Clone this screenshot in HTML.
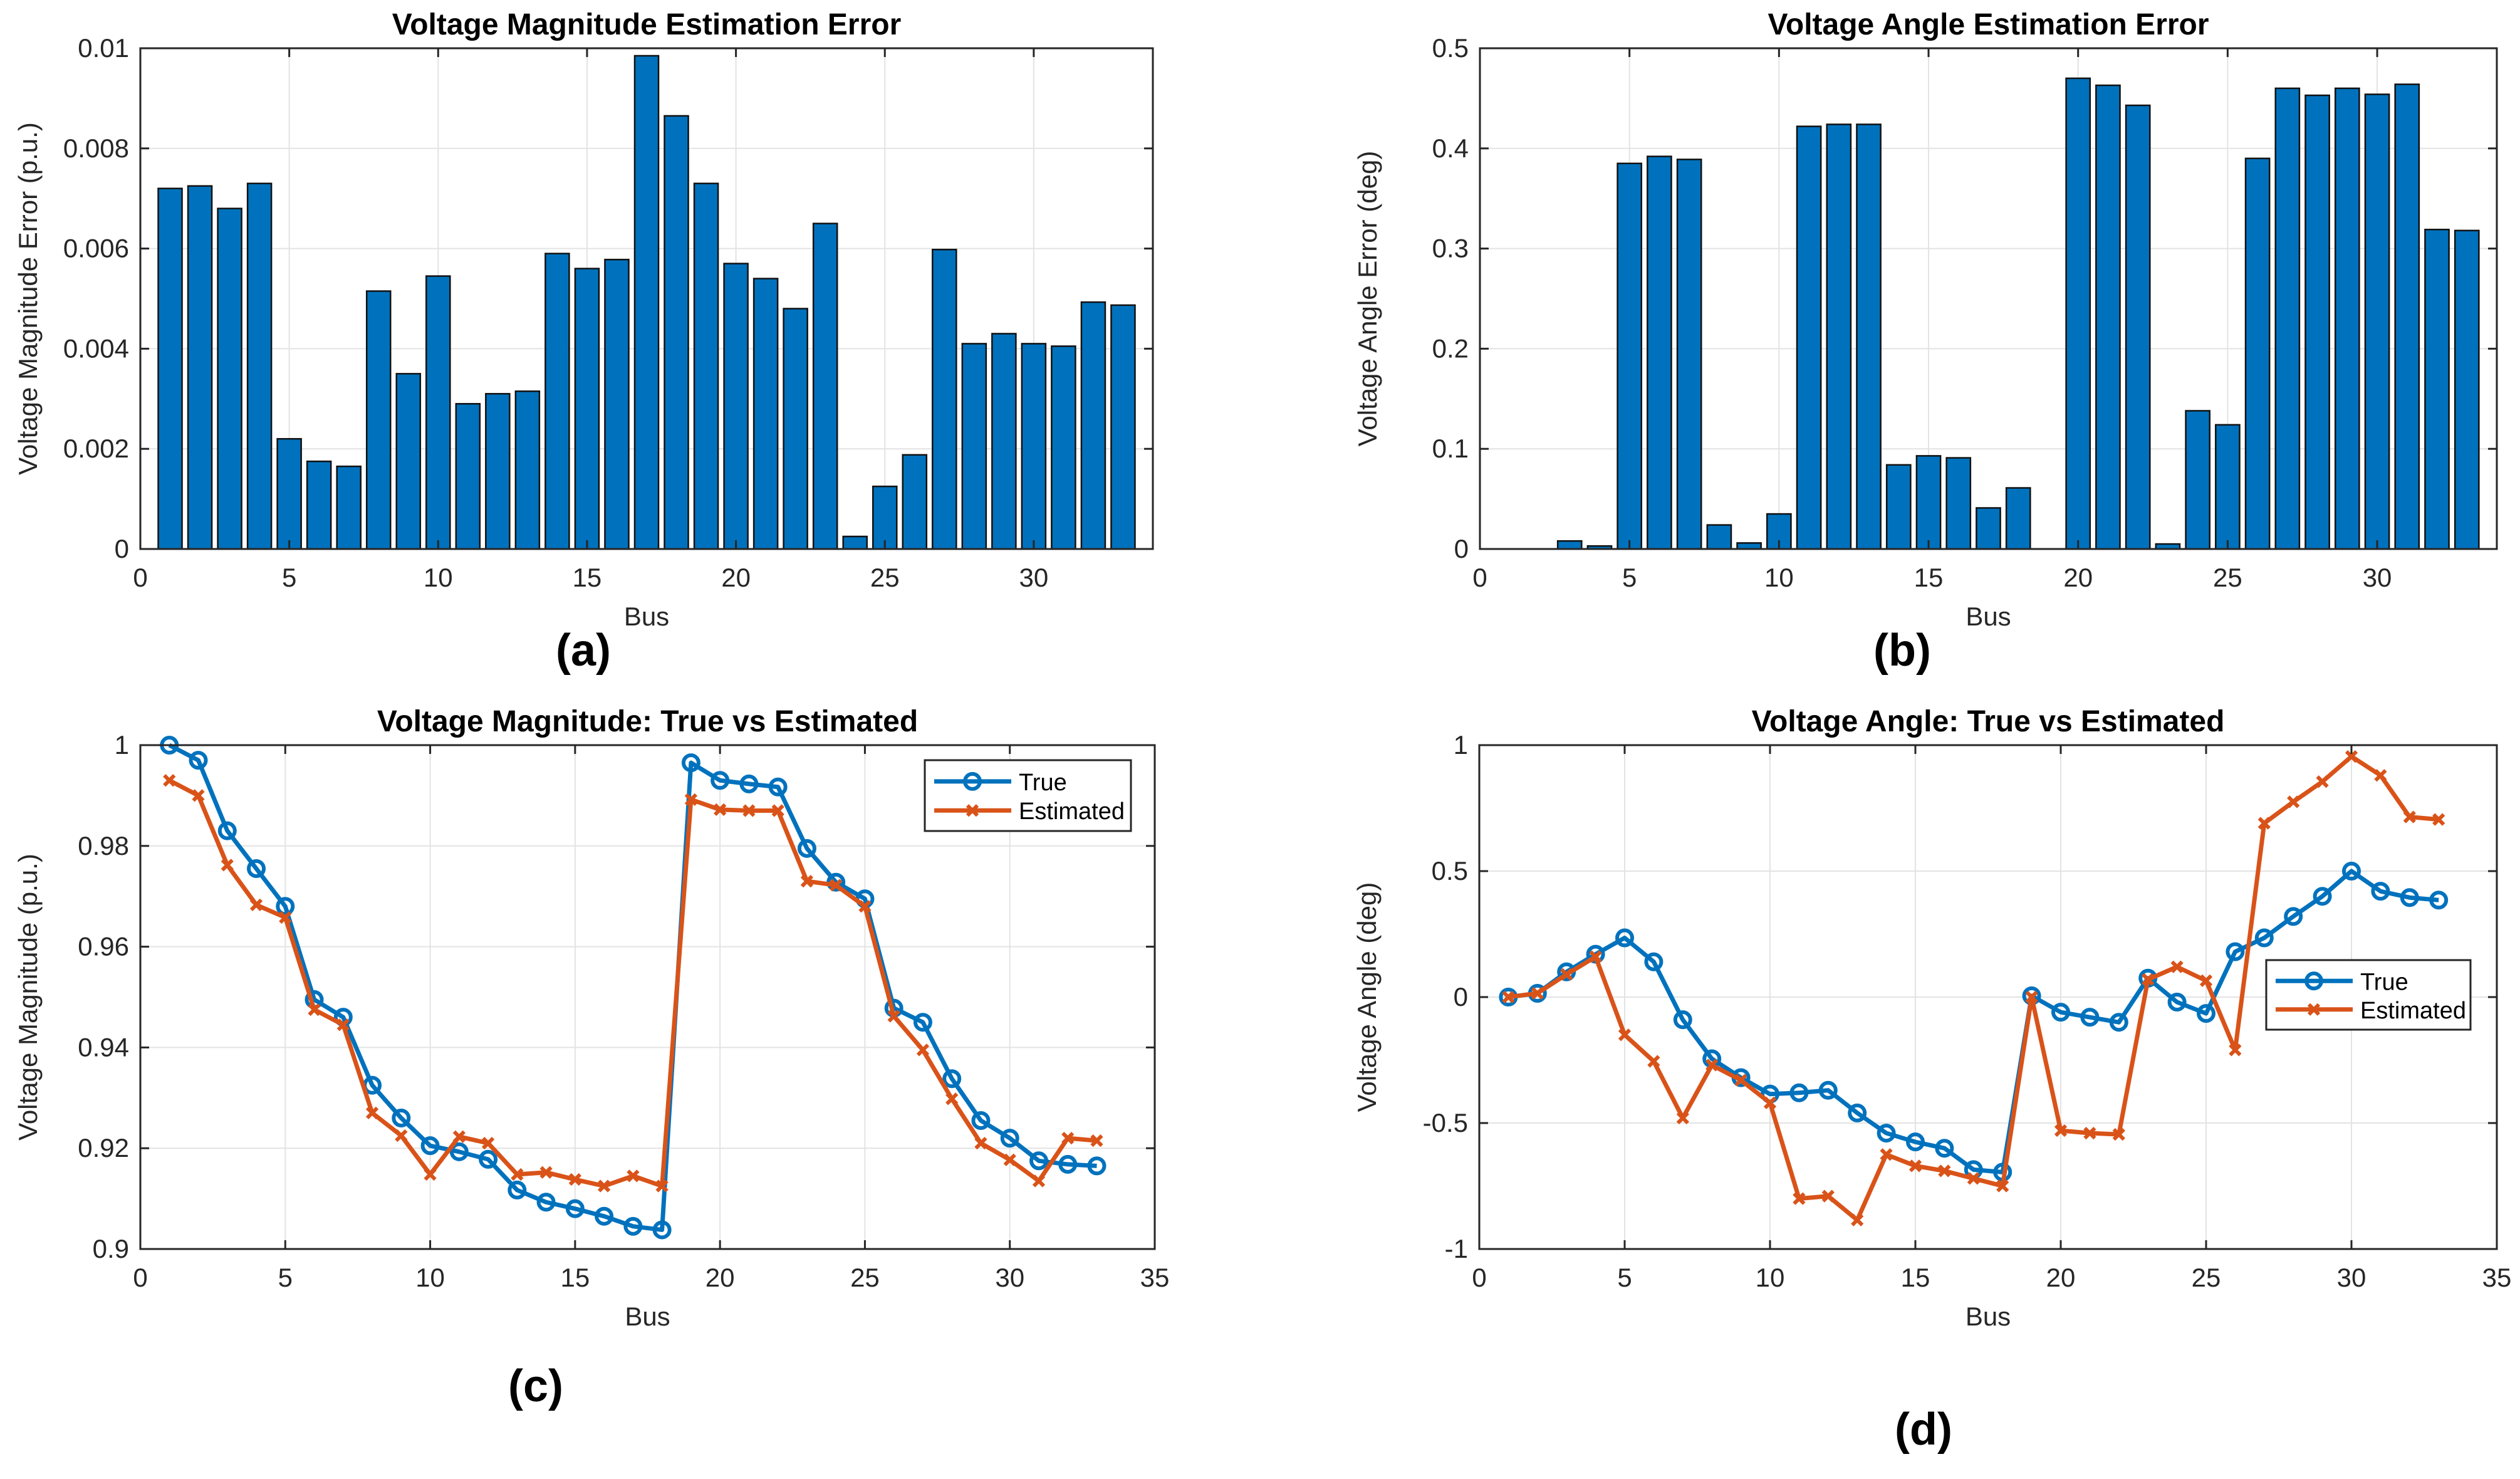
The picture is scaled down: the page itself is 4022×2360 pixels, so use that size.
<!DOCTYPE html>
<html><head><meta charset="utf-8"><style>
html,body{margin:0;padding:0;background:#fff;}
svg{display:block;font-family:"Liberation Sans",sans-serif;}
</style></head><body>
<svg id="fig" width="4022" height="2360" viewBox="0 0 4022 2360" xmlns="http://www.w3.org/2000/svg"></svg>
<script>
const buses = [1,2,3,4,5,6,7,8,9,10,11,12,13,14,15,16,17,18,19,20,21,22,23,24,25,26,27,28,29,30,31,32,33];
const magErr = [0.0072,0.00725,0.0068,0.0073,0.0022,0.00175,0.00165,0.00515,0.0035,0.00545,0.0029,0.0031,0.00315,0.0059,0.0056,0.00578,0.00985,0.00865,0.0073,0.0057,0.0054,0.0048,0.0065,0.00025,0.00125,0.00188,0.00598,0.0041,0.0043,0.0041,0.00405,0.00493,0.00487];
const angErr = [0,0,0.008,0.003,0.385,0.392,0.389,0.024,0.006,0.035,0.422,0.424,0.424,0.084,0.093,0.091,0.041,0.061,0,0.47,0.463,0.443,0.005,0.138,0.124,0.39,0.46,0.453,0.46,0.454,0.464,0.319,0.318];
const magTrue = [1,0.997,0.983,0.9755,0.968,0.9495,0.946,0.9325,0.926,0.9205,0.9193,0.9178,0.9117,0.9093,0.908,0.9065,0.9045,0.9038,0.9965,0.993,0.9923,0.9917,0.9795,0.9728,0.9695,0.9478,0.945,0.9338,0.9255,0.922,0.9175,0.9168,0.9165];
const magEst = [0.993,0.99,0.9762,0.9683,0.9658,0.9475,0.9445,0.927,0.9225,0.9148,0.9223,0.921,0.9148,0.9152,0.9138,0.9125,0.9145,0.9125,0.9892,0.9872,0.987,0.987,0.973,0.9722,0.968,0.9462,0.9395,0.9298,0.921,0.9177,0.9135,0.922,0.9215];
const angTrue = [0,0.015,0.1,0.17,0.235,0.14,-0.09,-0.245,-0.32,-0.385,-0.38,-0.37,-0.46,-0.54,-0.575,-0.6,-0.685,-0.695,0.005,-0.06,-0.08,-0.1,0.075,-0.02,-0.065,0.18,0.235,0.32,0.4,0.5,0.42,0.395,0.385];
const angEst = [0,0.015,0.09,0.16,-0.15,-0.255,-0.48,-0.27,-0.33,-0.42,-0.8,-0.79,-0.885,-0.625,-0.67,-0.69,-0.72,-0.75,0,-0.53,-0.54,-0.545,0.07,0.12,0.065,-0.21,0.69,0.775,0.855,0.955,0.88,0.715,0.705];
const xTicksBar = [0,5,10,15,20,25,30];
const xTicksLine = [0,5,10,15,20,25,30,35];
const yTicksA = ["0","0.002","0.004","0.006","0.008","0.01"];
const yTicksB = ["0","0.1","0.2","0.3","0.4","0.5"];
const yTicksC = ["0.9","0.92","0.94","0.96","0.98","1"];
const yTicksD = ["-1","-0.5","0","0.5","1"];

const NS="http://www.w3.org/2000/svg";
const svg=document.getElementById('fig');
function mk(tag,attrs,parent,text){const e=document.createElementNS(NS,tag);for(const k in attrs)e.setAttribute(k,attrs[k]);if(text!==undefined)e.textContent=text;(parent||svg).appendChild(e);return e;}
const BLUE="#0072BD", ORANGE="#D95319";

function axes(name,L,R,T,B,xmin,xmax,ymin,ymax,xt,yt,title,ylabel,panel,panelX,panelY){
  const g=mk('g',{});
  
  
  const sx=v=>L+(v-xmin)/(xmax-xmin)*(R-L);
  const sy=v=>B-(v-ymin)/(ymax-ymin)*(B-T);
  mk('rect',{x:L,y:T,width:R-L,height:B-T,fill:'#fff'},g);
  const grid=mk('g',{stroke:'#e3e3e3','stroke-width':2},g);
  
  
  xt.forEach(v=>{mk('line',{x1:sx(v),x2:sx(v),y1:T,y2:B},grid);});
  yt.forEach(s=>{const v=parseFloat(s);mk('line',{x1:L,x2:R,y1:sy(v),y2:sy(v)},grid);});
  const plot=mk('g',{},g);
  mk('rect',{x:L,y:T,width:R-L,height:B-T,fill:'none',stroke:'#262626','stroke-width':3},g);
  const tk=mk('g',{stroke:'#262626','stroke-width':3},g);
  xt.forEach(v=>{mk('line',{x1:sx(v),x2:sx(v),y1:B,y2:B-14},tk);mk('line',{x1:sx(v),x2:sx(v),y1:T,y2:T+14},tk);});
  yt.forEach(s=>{const v=parseFloat(s);mk('line',{x1:L,x2:L+14,y1:sy(v),y2:sy(v)},tk);mk('line',{x1:R,x2:R-14,y1:sy(v),y2:sy(v)},tk);});
  xt.forEach(v=>{const t=mk('text',{x:sx(v),y:B+60,'font-size':42,fill:'#262626','text-anchor':'middle'},g,String(v));});
  yt.forEach(s=>{const v=parseFloat(s);const t=mk('text',{x:L-18,y:sy(v)+14,'font-size':42,fill:'#262626','text-anchor':'end'},g,s);});
  const tt=mk('text',{x:(L+R)/2,y:T-22,'font-size':48,'font-weight':'bold',fill:'#000','text-anchor':'middle'},g,title);
  
  const xl=mk('text',{x:(L+R)/2,y:B+122,'font-size':42,fill:'#262626','text-anchor':'middle'},g,'Bus');
  
  const yl=mk('text',{x:0,y:0,'font-size':42,fill:'#262626','text-anchor':'middle',transform:`translate(${L-165},${(T+B)/2}) rotate(-90)`},g,ylabel);
  
  const pl=mk('text',{x:panelX,y:panelY,'font-size':72,'font-weight':'bold',fill:'#000','text-anchor':'middle'},g,panel);
  
  return {sx,sy,plot};
}

function bars(ax,vals){
  vals.forEach((v,i)=>{
    const x0=ax.sx(buses[i]-0.4),x1=ax.sx(buses[i]+0.4),y0=ax.sy(0),y1=ax.sy(v);
    const r=mk('rect',{x:x0,y:y1,width:x1-x0,height:y0-y1,fill:BLUE,stroke:'#111','stroke-width':2.5},ax.plot);
    
    
  });
}
function series(ax,vals,color,marker,name){
  const g=mk('g',{},ax.plot);
  
  
  const pts=vals.map((v,i)=>ax.sx(buses[i])+','+ax.sy(v)).join(' ');
  mk('polyline',{points:pts,fill:'none',stroke:color,'stroke-width':7,'stroke-linejoin':'round'},g);
  vals.forEach((v,i)=>{
    const x=ax.sx(buses[i]),y=ax.sy(v);
    if(marker==='o'){const c=mk('circle',{cx:x,cy:y,r:12,fill:'none',stroke:color,'stroke-width':6},g);}
    else{const p=mk('path',{d:`M${x-8},${y-8}L${x+8},${y+8}M${x-8},${y+8}L${x+8},${y-8}`,stroke:color,'stroke-width':6},g);}
  });
}
function legend(L,T,W,H){
  const g=mk('g',{});
  
  
  mk('rect',{x:L,y:T,width:W,height:H,fill:'#fff',stroke:'#262626','stroke-width':3},g);
  const rows=[['True',BLUE,'o'],['Estimated',ORANGE,'x']];
  rows.forEach((r,i)=>{
    const y=T+H*(i===0?0.3:0.71);
    const e=mk('g',{},g);
    
    
    mk('line',{x1:L+15,x2:L+138,y1:y,y2:y,stroke:r[1],'stroke-width':7},e);
    const cx=L+76;
    if(r[2]==='o')mk('circle',{cx:cx,cy:y,r:12,fill:'none',stroke:r[1],'stroke-width':6},e);
    else mk('path',{d:`M${cx-8},${y-8}L${cx+8},${y+8}M${cx-8},${y+8}L${cx+8},${y-8}`,stroke:r[1],'stroke-width':6},e);
    mk('text',{x:L+150,y:y+14,'font-size':38,fill:'#000'},e,r[0]);
  });
}

const a=axes('chart-a-magnitude-error',224,1840,77,876,0,34,0,0.01,xTicksBar,yTicksA,'Voltage Magnitude Estimation Error','Voltage Magnitude Error (p.u.)','(a)',931,1062);
bars(a,magErr);
const b=axes('chart-b-angle-error',2362,3985,77,876,0,34,0,0.5,xTicksBar,yTicksB,'Voltage Angle Estimation Error','Voltage Angle Error (deg)','(b)',3036,1062);
bars(b,angErr);
const c=axes('chart-c-magnitude-true-vs-est',224,1843,1189,1993,0,35,0.9,1,xTicksLine,yTicksC,'Voltage Magnitude: True vs Estimated','Voltage Magnitude (p.u.)','(c)',855,2236);
series(c,magTrue,BLUE,'o','series-true');
series(c,magEst,ORANGE,'x','series-estimated');
legend(1476,1213,329,113);
const d=axes('chart-d-angle-true-vs-est',2361,3985,1189,1993,0,35,-1,1,xTicksLine,yTicksD,'Voltage Angle: True vs Estimated','Voltage Angle (deg)','(d)',3070,2305);
series(d,angTrue,BLUE,'o','series-true');
series(d,angEst,ORANGE,'x','series-estimated');
legend(3617,1532,326,111);
</script>
</body></html>
